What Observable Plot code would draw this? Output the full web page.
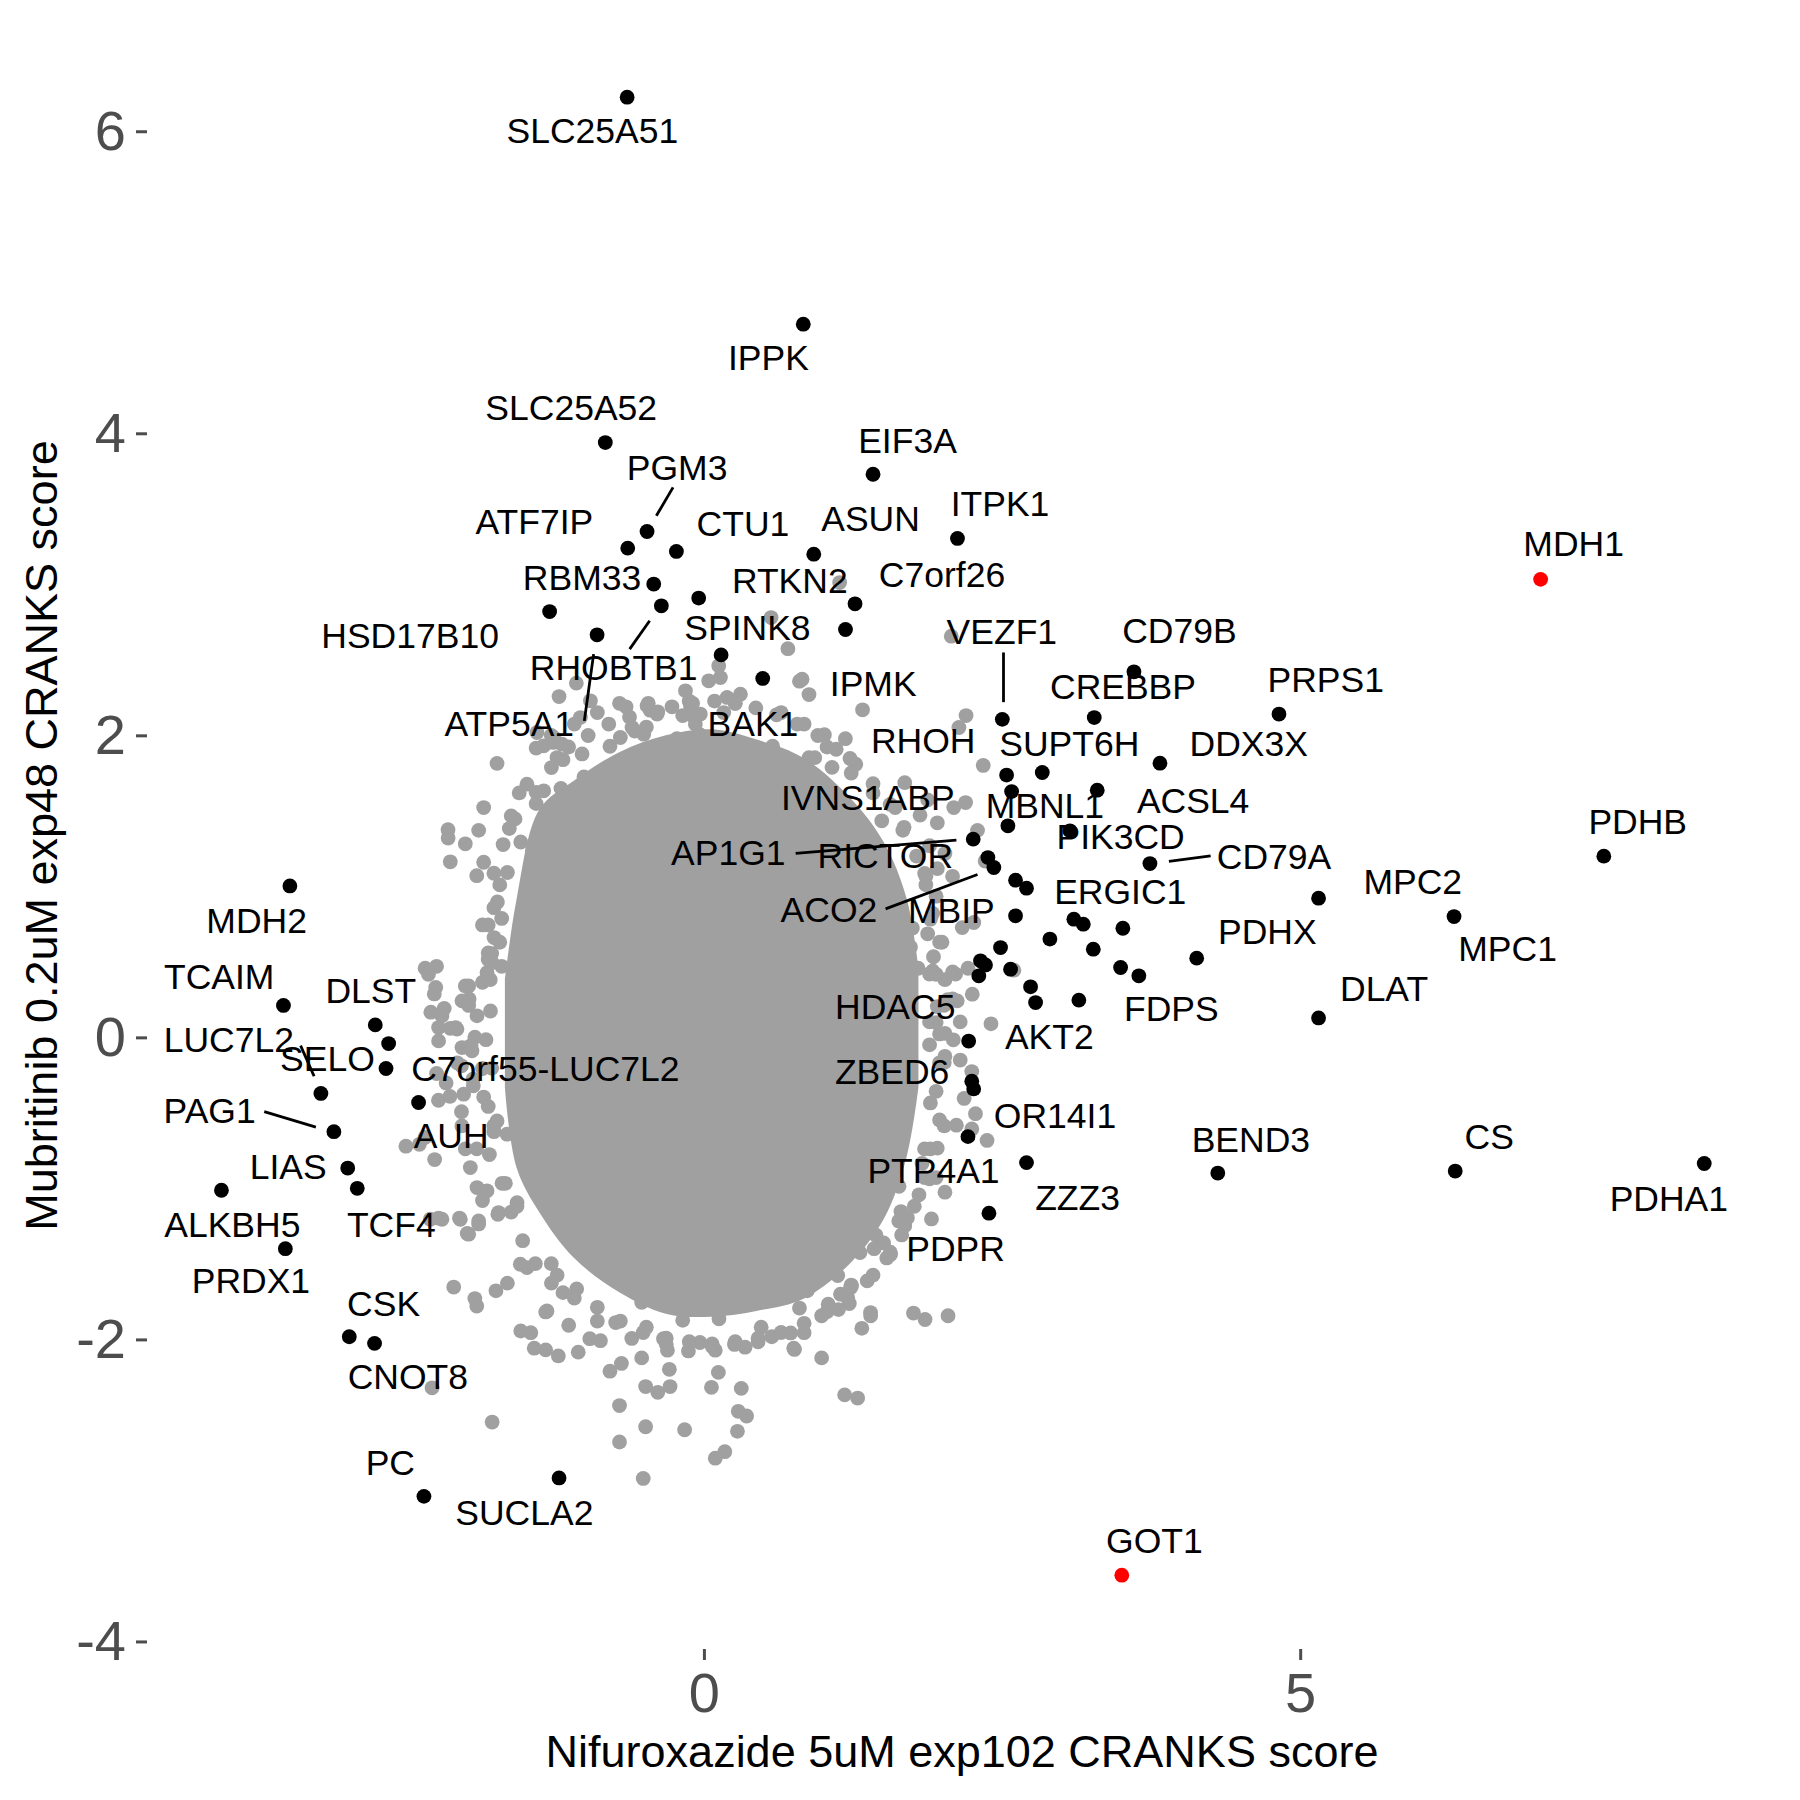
<!DOCTYPE html>
<html><head><meta charset="utf-8">
<script src="https://cdn.jsdelivr.net/npm/d3@7"></script>
<script src="https://cdn.jsdelivr.net/npm/@observablehq/plot@0.6"></script>
<style>
body{margin:0;background:#fff;}
#chart svg{display:block;}
</style></head><body><div id="chart"></div>
<script>
const xTitle = "Nifuroxazide 5uM exp102 CRANKS score";
const yTitle = "Mubritinib 0.2uM exp48 CRANKS score";
const xTicks = [0, 5];
const yTicks = [-4, -2, 0, 2, 4, 6];

// highlighted genes (black)
const hitPoints = [
[-0.648,6.229],[0.829,4.726],[-0.831,3.942],[1.414,3.732],[-0.481,3.353],[-0.643,3.243],[-0.235,3.221],
[0.917,3.203],[2.122,3.307],[-0.425,3.005],[-0.048,2.912],[-1.298,2.823],[-0.361,2.861],[1.263,2.874],
[1.183,2.704],[-0.900,2.669],[0.140,2.536],[0.489,2.380],[2.498,2.109],[3.269,2.121],[3.602,2.424],
[4.818,2.144],[3.820,1.819],[2.534,1.740],[2.833,1.757],[2.576,1.631],[3.294,1.640],[2.545,1.404],
[3.065,1.371],[2.254,1.316],[2.377,1.194],[2.427,1.128],[2.609,1.044],[2.701,0.991],[3.736,1.154],
[5.150,0.925],[2.609,0.808],[3.098,0.786],[3.177,0.753],[3.509,0.726],[2.897,0.654],[2.483,0.598],
[3.261,0.587],[4.128,0.528],[2.315,0.510],[2.357,0.483],[2.567,0.455],[2.301,0.411],[3.490,0.466],
[3.643,0.411],[2.735,0.338],[2.777,0.234],[3.140,0.250],[2.216,-0.021],[2.242,-0.287],[2.258,-0.338],
[2.210,-0.654],[2.701,-0.826],[2.386,-1.161],[7.542,1.203],[6.286,0.803],[5.150,0.132],[4.305,-0.895],
[6.296,-0.882],[8.384,-0.832],[-3.476,1.006],[-3.530,0.215],[-2.760,0.086],[-2.648,-0.038],[-2.670,-0.203],
[-3.216,-0.368],[-2.397,-0.428],[-3.107,-0.621],[-2.991,-0.862],[-2.911,-0.996],[-4.050,-1.009],
[-3.514,-1.396],[-2.978,-1.979],[-2.766,-2.023],[-2.352,-3.036],[-1.219,-2.914]
];

// red genes
const redGenes = ["MDH1", "GOT1"];
const redX = [7.012, 3.500];
const redY = [3.036, -3.558];

// gene labels: [text, x, y]
const labels = [
["SLC25A51",-0.94,6.00],["IPPK",0.537,4.497],["SLC25A52",-1.117,4.166],["PGM3",-0.229,3.772],
["EIF3A",1.703,3.947],["ATF7IP",-1.426,3.413],["CTU1",0.323,3.397],["ASUN",1.393,3.433],
["ITPK1",2.479,3.530],["RBM33",-1.026,3.038],["RTKN2",0.716,3.020],["C7orf26",1.992,3.060],
["HSD17B10",-2.468,2.660],["SPINK8",0.361,2.712],["RHOBTB1",-0.761,2.442],["VEZF1",2.494,2.685],
["CD79B",3.983,2.689],["IPMK",1.415,2.338],["CREBBP",3.510,2.318],["PRPS1",5.210,2.368],
["ATP5A1",-1.636,2.073],["BAK1",0.407,2.073],["RHOH",1.835,1.963],["SUPT6H",3.060,1.940],
["DDX3X",4.564,1.940],["IVNS1ABP",1.370,1.583],["MBNL1",2.855,1.532],["ACSL4",4.098,1.563],
["PDHB",7.826,1.424],["PIK3CD",3.490,1.328],["AP1G1",0.200,1.221],["RICTOR",1.517,1.202],
["CD79A",4.776,1.194],["MPC2",5.940,1.025],["ERGIC1",3.487,0.960],["ACO2",1.044,0.841],
["MBIP",2.070,0.834],["MDH2",-3.755,0.772],["PDHX",4.720,0.697],["MPC1",6.735,0.581],
["TCAIM",-4.069,0.400],["DLST",-2.797,0.305],["DLAT",5.699,0.318],["HDAC5",1.600,0.201],
["FDPS",3.915,0.189],["AKT2",2.892,0.0],["LUC7L2",-3.988,-0.020],["SELO",-3.161,-0.144],
["C7orf55-LUC7L2",-1.334,-0.213],["ZBED6",1.574,-0.229],["PAG1",-4.149,-0.490],["OR14I1",2.940,-0.521],
["AUH",-2.124,-0.654],["BEND3",4.582,-0.679],["CS",6.581,-0.660],["LIAS",-3.490,-0.861],
["PTP4A1",1.921,-0.887],["ZZZ3",3.129,-1.063],["PDHA1",8.087,-1.070],["ALKBH5",-3.959,-1.245],
["TCF4",-2.626,-1.240],["PDPR",2.106,-1.403],["PRDX1",-3.803,-1.616],["CSK",-2.690,-1.764],
["CNOT8",-2.487,-2.252],["PC",-2.634,-2.820],["SUCLA2",-1.510,-3.151],["MDH1",7.289,3.265],
["GOT1",3.773,-3.338]
];

// label connector segments: [x1, y1, x2, y2]
const segments = [
[-0.263,3.645,-0.403,3.457],[-0.459,2.762,-0.627,2.574],[-0.929,2.541,-1.007,2.099],
[2.508,2.552,2.508,2.223],[0.765,1.221,2.113,1.310],[1.519,0.854,2.290,1.082],
[3.895,1.168,4.245,1.205],[-3.386,-0.051,-3.273,-0.254],[-3.691,-0.489,-3.258,-0.591]
];

// dense core of the background genes (vertical extent per x)
const coreX    = [-1.669,-1.572,-1.379,-1.091,-0.706,-0.320,0.065,0.450,0.836,1.221,1.510,1.703,1.799];
const coreLow  = [-0.33,-0.86,-1.16,-1.46,-1.69,-1.83,-1.85,-1.81,-1.73,-1.50,-1.20,-0.78,-0.33];
const coreHigh = [0.38,0.91,1.51,1.70,1.89,2.00,2.04,1.97,1.85,1.59,1.29,0.91,0.46];

// background genes at the rim of the dense core
const rimPoints = [
[-1.553,1.622],[-1.620,1.470],[-1.688,1.280],[-1.765,1.090],[-1.736,0.900],[-1.813,0.748],[-1.784,0.558],
[-1.861,0.368],[-1.794,0.178],[-1.832,-0.012],[-1.784,-0.202],[-1.851,-0.392],[-1.765,-0.582],[-1.803,-0.773],
[-1.697,-0.963],[-1.620,-1.153],[-1.524,-1.343],[-1.418,-1.495],
[-1.283,1.790],[-1.139,1.926],[-0.975,2.002],[-0.802,2.078],[-0.628,2.124],[-0.455,2.170],[-0.272,2.192],
[-0.099,2.215],[0.085,2.230],[0.258,2.215],[0.431,2.185],[0.605,2.139],[0.778,2.078],[0.951,2.002],
[1.105,1.911],[1.269,1.812],[1.414,1.683],
[1.558,1.546],[1.674,1.394],[1.779,1.204],[1.857,1.014],[1.914,0.824],[1.972,0.634],[1.943,0.421],
[2.011,0.216],[1.972,0.026],[2.011,-0.164],[1.943,-0.354],[1.972,-0.544],[1.895,-0.735],[1.847,-0.925],
[1.760,-1.115],[1.654,-1.305],[1.529,-1.457],
[1.365,-1.609],[1.202,-1.723],[1.028,-1.814],[0.836,-1.890],[0.643,-1.951],[0.450,-1.989],[0.258,-2.012],
[0.065,-2.027],[-0.127,-2.012],[-0.320,-1.989],[-0.513,-1.951],[-0.705,-1.875],[-0.898,-1.784],[-1.071,-1.662],
[-1.235,-1.571]
];

// background genes outside the dense core
const grayPoints = [
[-1.219,2.260],[-1.074,2.349],[-1.411,1.919],[-1.267,1.956],[-1.186,1.842],[-1.026,1.880],[-1.739,1.817],
[-1.010,1.728],[-1.411,1.626],[-1.203,1.652],[-1.091,1.589],[-1.851,1.525],[-1.588,1.450],[-1.411,1.551],
[-1.379,1.374],[-1.283,1.437],[-2.149,1.323],[-2.005,1.285],[-1.893,1.374],[-1.636,1.386],[-1.540,1.297],
[-1.443,1.234],[-1.851,1.163],[-1.909,1.074],[-1.652,1.095],[-1.716,1.013],[-1.476,1.070],[-1.700,0.791],
[-1.764,0.664],[-1.813,0.562],[-1.700,0.474],[-1.796,0.385],[-2.342,0.461],[-2.246,0.474],[-2.253,0.334],
[-2.294,0.170],[-2.182,0.195],[-2.086,0.068],[-1.973,0.258],[-1.925,0.005],[-2.246,-0.236],[-2.166,-0.299],
[-2.037,-0.185],[-1.941,-0.274],[-2.230,-0.413],[-2.134,-0.388],[-2.037,-0.489],[-2.503,-0.717],[-2.390,-0.705],
[-2.262,-0.806],
[-2.201,0.146],[-2.229,0.068],[-2.229,-0.020],[-2.075,0.058],[-2.033,0.245],[-1.977,0.344],[-1.907,0.146],
[-1.823,0.432],[-1.781,0.499],[-2.033,-0.064],[-1.949,-0.086],[-2.019,-0.373],[-1.963,-0.859],[-1.907,-0.991],
[-1.823,-1.013],[-1.739,-0.550],[-1.655,-0.638],[-2.299,-1.201],[-2.201,-1.201],[-2.047,-1.201],[-1.893,-1.212],
[-1.977,-1.300],[-1.726,-1.157],[-1.571,-1.091],[-1.544,-1.499],[-1.488,-1.521],[-1.320,-1.808],
[1.225,-1.654],[1.393,-1.819],[1.630,-1.212],[1.141,-1.697],
[-2.230,-1.193],[-2.054,-1.193],[-1.893,-1.232],[-1.989,-1.295],[-1.732,-1.168],[-2.102,-1.650],[-1.925,-1.726],
[-1.909,-1.776],[-1.748,-1.675],[-1.652,-1.624],[-1.540,-1.941],[-1.427,-2.055],[-1.225,-2.106],[-1.331,-1.815],
[-1.283,-1.624],[-1.186,-1.687],[-1.138,-1.903],[-1.058,-2.081],[-0.961,-1.992],[-2.284,-2.317],[-1.780,-2.544],
[-0.696,-2.156],[-0.792,-2.207],[-0.526,-2.119],[-0.294,-2.195],[-0.493,-2.309],[-0.391,-2.347],[-0.288,-2.309],
[-0.712,-2.435],[-0.493,-2.575],[-0.712,-2.676],[-0.513,-2.917],[-0.166,-2.595],[0.059,-2.314],[0.117,-2.215],
[0.309,-2.321],[0.284,-2.473],[0.354,-2.504],[0.277,-2.605],[0.091,-2.783],[0.171,-2.740],[0.983,-2.119],
[1.176,-2.364],[1.285,-2.385],[0.755,-2.063],[1.320,-1.923],[1.394,-1.840],[1.753,-1.822],[1.850,-1.865],
[2.043,-1.840],[1.215,-1.759],[1.038,-1.764],[0.983,-1.840],[1.233,-1.642],[1.305,-1.422],[1.423,-1.396],
[1.503,-1.358],[1.561,-1.434],[1.648,-1.150],[1.680,-1.244],[1.904,-1.199],[1.128,-1.472],[1.118,-1.574],
[-0.343,-1.992],[-0.310,-2.068],[-0.134,-2.073],[-0.038,-2.017],[0.091,-2.068],[0.252,-2.030],[0.341,-2.048],
[0.476,-1.916],[0.565,-1.979],[0.723,-1.954],[0.749,-2.055],[-0.744,-1.885],[-0.872,-2.005],[-0.526,-1.751],
[-0.487,-1.916],[-0.182,-1.870],[0.122,-1.860],[0.797,-1.789],[0.862,-1.675],[0.973,-1.548],[1.231,-1.637],
[1.215,-1.232],[1.375,-1.219],[1.439,-1.307],
[1.134,3.015],[0.700,2.577],[0.797,2.362],[0.877,2.273],[1.326,2.172],[2.070,2.660],[2.194,2.134],[1.182,1.981],
[1.006,2.007],[0.877,1.855],[0.749,1.779],[0.637,1.855],[1.070,1.791],[1.231,1.754],[2.338,1.804],[1.680,1.690],
[1.872,1.576],[1.600,1.525],[1.808,1.475],[1.953,1.424],[1.487,1.437],[1.664,1.374],[2.290,1.374],[1.888,1.272],
[2.017,1.221],[1.953,1.120],[1.857,1.070],[2.081,1.070],[2.354,1.171],[1.744,0.727],[1.872,0.689],[1.728,0.601],
[1.921,0.537],[1.792,0.461],[1.888,0.423],[2.017,0.385],[2.081,0.436],[2.210,0.461],[2.595,0.448],[2.403,0.093],
[2.145,0.106],[1.953,0.207],[2.081,0.258],[1.888,0.106],[2.017,0.030],[1.888,-0.046],[2.017,-0.122],[2.145,-0.147],
[2.242,-0.223],[2.178,-0.401],[2.273,-0.502],[2.113,-0.578],[2.242,-0.603],[2.370,-0.679],[1.953,-0.730],
[1.825,-0.832],[1.888,-0.933],[2.017,-1.022],[1.568,-0.806],[1.632,-0.983],[1.503,-1.060],
[-0.712,2.215],[-0.471,2.215],[-0.391,2.159],[-0.108,2.210],[-0.102,2.134],[-0.182,2.134],[-0.792,1.931],
[-0.584,2.032],[-0.487,2.058],[-0.231,1.981],[-0.038,2.007],[0.059,1.855],[0.251,1.830],[0.380,1.804],
[0.572,1.931],[0.540,1.728],[0.732,1.677],[0.797,1.779],[0.925,1.855],
[0.559,2.783],[0.819,2.375],[0.120,2.464],[0.134,2.386],[0.036,2.364],[0.190,2.254],[0.302,2.276],[0.162,2.154],
[-0.159,2.298],[-0.117,2.199],[-0.034,2.144],[-0.076,2.078],[-0.481,2.199],[-0.397,2.144],[-0.607,2.055],
[-0.705,1.989],[-0.509,2.011],[-0.956,2.232],[-1.040,2.121],[-1.404,2.022],[-1.264,1.989],[-1.194,1.945],
[-1.348,1.934],[-1.236,1.856],[-1.488,1.680],[-1.348,1.636],
[2.134,2.055],[2.091,1.525],[2.190,1.558],[2.162,0.730],[2.259,0.764],[2.106,0.422],[2.246,0.289],[2.120,0.245],
[-2.150,1.378],[-2.131,1.166],[-2.314,0.421],[-2.265,0.291],[-2.342,-0.659],[-2.005,-0.735],[-1.456,-1.952],
[-1.331,-2.066],
[-2.005,0.344],[-1.977,0.215],[-2.131,0.063],[-1.957,-0.051],[-2.073,-0.165],[-1.861,-0.203],[-1.938,-0.317],
[-1.813,-0.454],[-2.034,-0.583],[-1.765,-0.621],[-1.909,-0.735],[-1.669,-0.963],[-1.861,-1.077],[-1.572,-1.115],
[-1.765,0.862],[-1.861,0.748],[-1.716,0.633],[-1.813,0.519],
[-1.284,2.002],[-1.091,2.078],[-0.898,2.154],[-0.657,2.192],[-0.128,2.230],[0.258,2.215],[0.643,2.154],
[0.836,2.078],[1.028,1.926],[1.221,1.850],[1.414,1.622],
[1.847,1.089],[1.943,0.938],[1.895,0.786],[1.992,0.633],[1.914,0.443],[2.039,0.253],[1.943,0.101],[2.087,-0.013],
[1.972,-0.165],[1.895,-0.431],[2.011,-0.583],[1.846,-0.735],[1.943,-0.925],[1.799,-1.039],[1.702,-1.191],
[1.558,-1.419],[1.414,-1.571],
[-1.284,-1.495],[-1.091,-1.723],[-0.898,-1.875],[-0.609,-1.990],[-0.320,-2.028],[0.065,-2.043],[0.450,-2.013],
[0.836,-1.952],[1.124,-1.799]
];

const core = coreX.map((x, i) => ({x, y1: coreLow[i], y2: coreHigh[i]}));
const reds = redGenes.map((g, i) => ({gene: g, x: redX[i], y: redY[i]}));

const FONT = "'Liberation Sans', Arial, Helvetica, sans-serif";
const GRAY = "#A0A0A0";
const R = 7.4;

const plot = Plot.plot({
  width: 1800, height: 1800,
  marginLeft: 147, marginRight: 24, marginTop: 21, marginBottom: 151,
  style: {fontFamily: FONT, background: "#fff", color: "#000"},
  x: {domain: [-4.67, 8.99]},
  y: {domain: [-4.05, 6.73]},
  marks: [
    Plot.areaY(core, {x: "x", y1: "y1", y2: "y2", fill: GRAY, curve: "catmull-rom"}),
    Plot.dot(rimPoints, {x: d => d[0], y: d => d[1], r: R, fill: GRAY}),
    Plot.dot(grayPoints, {x: d => d[0], y: d => d[1], r: R, fill: GRAY}),
    Plot.dot(hitPoints, {x: d => d[0], y: d => d[1], r: R, fill: "#000"}),
    Plot.dot(reds, {x: "x", y: "y", r: R, fill: "#FF0000"}),
    Plot.link(segments, {x1: d => d[0], y1: d => d[1], x2: d => d[2], y2: d => d[3], stroke: "#000", strokeWidth: 2.8}),
    Plot.text(labels, {x: d => d[1], y: d => d[2], text: d => d[0], fontSize: 35.5, fill: "#000",
      textAnchor: "middle", lineAnchor: "middle", fontFamily: FONT}),
    Plot.axisX(xTicks, {tickSize: 11, tickPadding: 12, fontSize: 56, color: "#4D4D4D", strokeWidth: 3,
      label: null, tickFormat: d => String(d), fontFamily: FONT}),
    Plot.axisY(yTicks, {tickSize: 11, tickPadding: 10.5, fontSize: 56, color: "#4D4D4D", strokeWidth: 3,
      label: null, tickFormat: d => String(d), fontFamily: FONT}),
    Plot.text([xTitle], {frameAnchor: "bottom", dy: 117, lineAnchor: "bottom", textAnchor: "middle",
      fontSize: 45, fill: "#000", text: d => d, fontFamily: FONT}),
    Plot.text([yTitle], {frameAnchor: "left", dx: -90.4, rotate: -90, lineAnchor: "bottom", textAnchor: "middle",
      fontSize: 45, fill: "#000", text: d => d, fontFamily: FONT})
  ]
});
document.getElementById("chart").appendChild(plot);
</script>
</body></html>
